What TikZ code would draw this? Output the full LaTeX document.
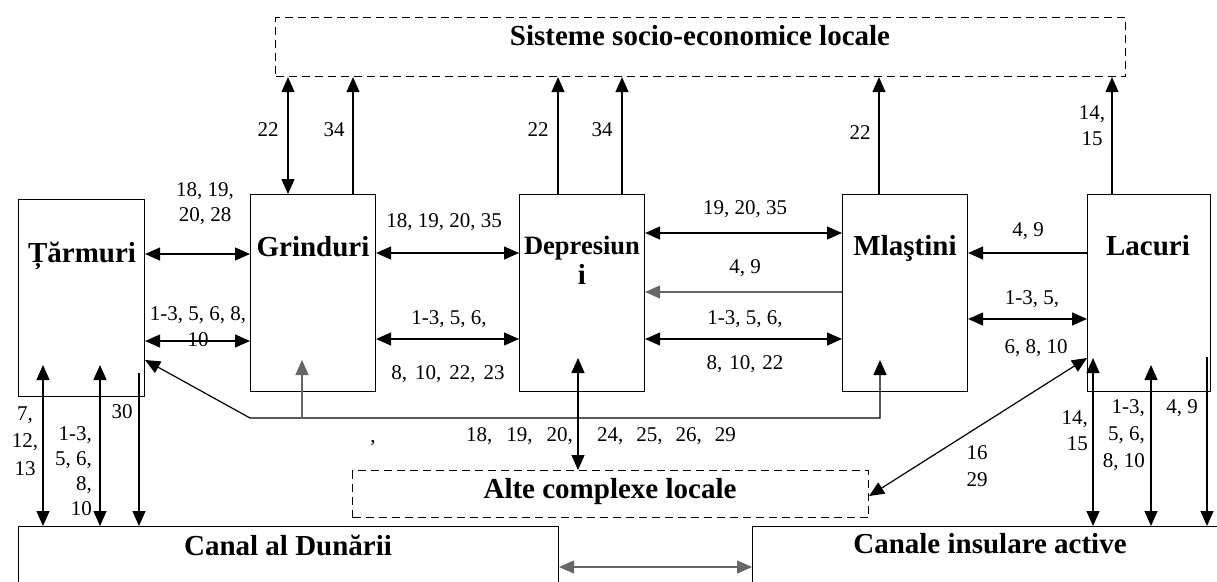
\documentclass[tikz,border=0pt]{standalone}
\usepackage{fontspec}
\setmainfont{Liberation Serif}
\usetikzlibrary{arrows.meta}
\begin{document}
\begin{tikzpicture}[x=1pt,y=-1pt,
 box/.style={draw, line width=1.1pt, inner sep=0pt, anchor=north west},
 dbox/.style={box, dash pattern=on 8pt off 5pt},
 boxlbl/.style={font=\bfseries\fontsize{29}{32}\selectfont, anchor=base, inner sep=0pt},
 num/.style={font=\fontsize{21}{25}\selectfont, align=center, inner sep=0pt},
 conn/.style={line width=1.2pt},
 arr/.style={conn, -{Triangle[length=15pt,width=13pt]}},
 darr/.style={conn, {Triangle[length=15pt,width=13pt]}-{Triangle[length=15pt,width=13pt]}},
]
\path[use as bounding box, fill=white] (0,0) rectangle (1217,581);
\begin{scope}
\clip (0,0) rectangle (1217,581);
% boxes
\node[box, minimum width=126pt, minimum height=197pt] (tar) at (18,199) {};
\node[box, minimum width=125pt, minimum height=197pt] (grin) at (250,194) {};
\node[box, minimum width=125pt, minimum height=197pt] (dep) at (519,194) {};
\node[box, minimum width=125pt, minimum height=197pt] (mla) at (842,194) {};
\node[box, minimum width=123pt, minimum height=197pt] (lac) at (1087,194) {};
\node[dbox, minimum width=850pt, minimum height=59pt] (sis) at (275,17) {};
\node[dbox, minimum width=516pt, minimum height=47pt] (alte) at (352,470) {};
\node[box, minimum width=540pt, minimum height=100pt] (canal) at (18,526) {};
\node[box, minimum width=520pt, minimum height=100pt] (canins) at (752,526) {};
% box labels
\node[boxlbl] (ltar) at (82,262) {Țărmuri};
\node[boxlbl] (lgrin) at (313,256) {Grinduri};
\node[boxlbl, font=\bfseries\fontsize{26.5}{30}\selectfont] (ldep) at (582,254) {Depresiun};
\node[boxlbl] (ldep2) at (582,284) {i};
\node[boxlbl] (lmla) at (905,255) {Mlaştini};
\node[boxlbl] (llac) at (1148,255) {Lacuri};
\node[boxlbl] (lsis) at (700,45) {Sisteme socio-economice locale};
\node[boxlbl] (lalte) at (610,498) {Alte complexe locale};
\node[boxlbl] (lcanal) at (288,555) {Canal al Dunării};
\node[boxlbl] (lcanins) at (990,553) {Canale insulare active};
% helper coordinates
\coordinate (xa) at (288,0); \coordinate (xb) at (353,0);
\coordinate (xc) at (558,0); \coordinate (xd) at (622,0);
\coordinate (xe) at (879,0); \coordinate (xf) at (1112,0);
\coordinate (ya) at (0,254); \coordinate (yb) at (0,341);
\coordinate (yc) at (0,253); \coordinate (yd) at (0,339);
\coordinate (ye) at (0,233); \coordinate (yf) at (0,292);
\coordinate (yg) at (0,319); \coordinate (yh) at (0,567);
\coordinate (yi) at (0,360); \coordinate (yj) at (0,358);
\coordinate (yk) at (0,496);
% top connectors
\draw[darr] (grin.north -| xa) -- (sis.south -| xa);
\draw[arr] (grin.north -| xb) -- (sis.south -| xb);
\draw[arr] (dep.north -| xc) -- (sis.south -| xc);
\draw[arr] (dep.north -| xd) -- (sis.south -| xd);
\draw[arr] (mla.north -| xe) -- (sis.south -| xe);
\draw[arr] (lac.north -| xf) -- (sis.south -| xf);
% horizontal connectors
\draw[darr] (tar.east |- ya) -- (grin.west |- ya);
\draw[darr] (tar.east |- yb) -- (grin.west |- yb);
\draw[darr] (grin.east |- yc) -- (dep.west |- yc);
\draw[darr] (grin.east |- yd) -- (dep.west |- yd);
\draw[darr] (dep.east |- ye) -- (mla.west |- ye);
\draw[arr, black!60] (mla.west |- yf) -- (dep.east |- yf);
\draw[darr] (dep.east |- yd) -- (mla.west |- yd);
\draw[arr] (lac.west |- yc) -- (mla.east |- yc);
\draw[darr] (mla.east |- yg) -- (lac.west |- yg);
% network below the boxes
\coordinate (j1) at (250,418); \coordinate (j2) at (880,418);
\coordinate (mtip) at (880,360);
\draw[darr] (tar.east |- yi) -- (j1) -- (j2) -- (mtip);
\coordinate (gb) at (302,418); \coordinate (gt) at (302,360);
\draw[arr, black!60] (gb) -- (gt);
\coordinate (dt) at (578,358);
\draw[darr] (dt) -- (alte.north -| dt);
\draw[darr] (lac.west |- yj) -- (alte.east |- yk);
% Lacuri to Canale insulare
\coordinate (l1) at (1093,358); \coordinate (l2) at (1151,365); \coordinate (l3) at (1207,357);
\draw[darr] (l1) -- (canins.north -| l1);
\draw[darr] (l2) -- (canins.north -| l2);
\draw[arr] (l3) -- (canins.north -| l3);
% Tarmuri to Canal
\coordinate (t1) at (43,365); \coordinate (t2) at (100,365); \coordinate (t3) at (139,373);
\draw[darr] (t1) -- (canal.north -| t1);
\draw[darr] (t2) -- (canal.north -| t2);
\draw[arr] (t3) -- (canal.north -| t3);
% Canal <-> Canale insulare
\draw[darr, black!60] (canal.east |- yh) -- (canins.west |- yh);
% number labels
\node[num] (n1) at (268,130) {22};
\node[num] (n2) at (334,130) {34};
\node[num] (n3) at (538,130) {22};
\node[num] (n4) at (602,130) {34};
\node[num] (n5) at (860,133) {22};
\node[num, font=\fontsize{21}{26}\selectfont] (n6) at (1092,126) {14,\\15};
\node[num] (n7) at (205,204) {18, 19,\\20, 28};
\node[num] (n8) at (444,222) {18, 19, 20, 35};
\node[num, font=\fontsize{21}{26}\selectfont] (n9) at (198,327) {1-3, 5, 6, 8,\\10};
\node[num] (n10) at (449,319) {1-3, 5, 6,};
\node[num] (n11) at (448,374) {8,\hspace{8pt}10,\hspace{8pt}22,\hspace{8pt}23};
\node[num] (n12) at (745,209) {19, 20, 35};
\node[num] (n13) at (745,268) {4, 9};
\node[num] (n14) at (745,319) {1-3, 5, 6,};
\node[num] (n15) at (745,364) {8,\hspace{7pt}10,\hspace{7pt}22};
\node[num] (n16) at (1028,231) {4, 9};
\node[num] (n17) at (1032,299) {1-3, 5,};
\node[num] (n18) at (1036,348) {6, 8, 10};
\node[num, font=\fontsize{21}{27.5}\selectfont] (n19) at (25,441) {7,\\12,\\13};
\node[num, align=right, anchor=east] (n20) at (92,471) {1-3,\\5, 6,\\8,\\10};
\node[num] (n21) at (122,412) {30};
\node[num] (n22) at (373,443) {,};
\node[num, anchor=east] (n23) at (573,436) {18,\hspace{14pt}19,\hspace{14pt}20,};
\node[num, anchor=west] (n24) at (597,436) {24,\hspace{13pt}25,\hspace{13pt}26,\hspace{13pt}29};
\node[num, font=\fontsize{21}{27}\selectfont] (n25) at (977,466) {16\\29};
\node[num, align=right, anchor=east, font=\fontsize{21}{26}\selectfont] (n26) at (1088,431) {14,\\15};
\node[num, align=right, anchor=east, font=\fontsize{21}{27}\selectfont] (n27) at (1145,435) {1-3,\\5, 6,\\8, 10};
\node[num] (n28) at (1182,408) {4, 9};
\end{scope}
\end{tikzpicture}
\end{document}
